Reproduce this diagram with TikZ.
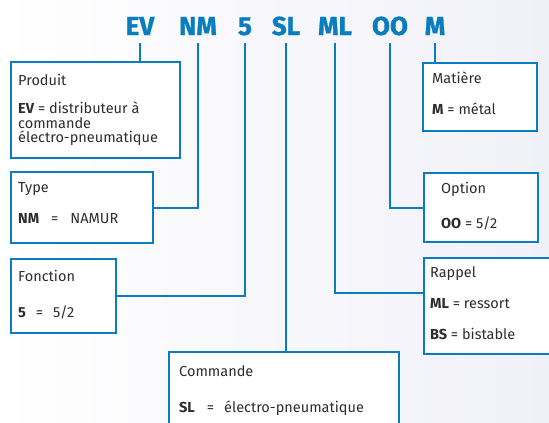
\documentclass[tikz,border=0pt]{standalone}
\usepackage{fontspec}
\setmainfont{Fira Sans}
\newfontfamily\codefont[BoldFeatures={FakeBold=1.2}]{Fira Sans}
\usepackage{tikz}

\definecolor{evblue}{RGB}{10,125,190}
\definecolor{txtgray}{RGB}{45,45,45}
\definecolor{bgtint}{RGB}{240,240,248}

\tikzset{
  code/.style={font=\fontsize{26}{26}\selectfont\codefont\bfseries, text=evblue, inner sep=0pt, outer ysep=8pt, anchor=base},
  infobox/.style={draw=evblue, line width=2.4pt, fill=white, anchor=north west, inner sep=0pt},
  boxtext/.style={font=\fontsize{14.5}{15}\selectfont, text=txtgray, anchor=base west, inner sep=0pt},
  link/.style={draw=evblue, line width=1.9pt}
}

\begin{document}
\begin{tikzpicture}[x=1pt,y=-1pt]
  \useasboundingbox (0,0) rectangle (549,423);
  \clip (0,0) rectangle (549,423);
  \shade [left color=white, right color=bgtint] (0,0) rectangle (549,423);
  % reference code
  \node [code] (ev) at (140,35) {EV};
  \node [code] (nm) at (198,35) {NM};
  \node [code] (cinq) at (245,35) {5};
  \node [code] (sl) at (286,35) {SL};
  \node [code] (ml) at (335,35) {ML};
  \node [code] (oo) at (390,35) {OO};
  \node [code] (m) at (435,35) {M};
  % boxes
  \node [infobox, minimum width=169pt, minimum height=96pt] (produit) at (10,61) {};
  \node [infobox, minimum width=142pt, minimum height=71pt] (type) at (10,171) {};
  \node [infobox, minimum width=105pt, minimum height=74pt] (fonction) at (10,258) {};
  \node [infobox, minimum width=114pt, minimum height=68pt] (matiere) at (422,62) {};
  \node [infobox, minimum width=114pt, minimum height=69pt] (option) at (423,172) {};
  \node [infobox, minimum width=150pt, minimum height=96pt] (rappel) at (423,257) {};
  \node [infobox, minimum width=230pt, minimum height=90pt] (commande) at (168,351) {};
  % connectors
  \draw [link] (ev.south) -- (ev.south |- produit.north);
  \draw [link] (nm.south) |- (type.east);
  \draw [link] (cinq.south) |- (fonction.east);
  \draw [link] (sl.south) -- (sl.south |- commande.north);
  \draw [link] (ml.south) |- ([yshift=13pt]rappel.west);
  \draw [link] (oo.south) |- (option.west);
  \draw [link] (m.south) -- (m.south |- matiere.north);
  % texts
  \node [boxtext] (produit-t) at (18,85) {Produit};
  \node [boxtext] (produit-a) at (18,113) {\textbf{EV} = distributeur à};
  \node [boxtext] (produit-b) at (18,128) {commande};
  \node [boxtext] (produit-c) at (18,142) {électro-pneumatique};
  \node [boxtext] (type-t) at (18,192) {Type};
  \node [boxtext] (type-a) at (18,223) {\textbf{NM}\hspace{12pt}=\hspace{12pt}NAMUR};
  \node [boxtext] (fonction-t) at (18,281) {Fonction};
  \node [boxtext] (fonction-a) at (18,317) {\textbf{5}\hspace{10pt}=\hspace{10pt}5/2};
  \node [boxtext] (matiere-t) at (432,83) {Matière};
  \node [boxtext] (matiere-a) at (432,114) {\textbf{M} = métal};
  \node [boxtext] (option-t) at (441,193) {Option};
  \node [boxtext] (option-a) at (441,228) {\textbf{OO} = 5/2};
  \node [boxtext] (rappel-t) at (430,277) {Rappel};
  \node [boxtext] (rappel-a) at (430,308) {\textbf{ML} = ressort};
  \node [boxtext] (rappel-b) at (430,339) {\textbf{BS} = bistable};
  \node [boxtext] (commande-t) at (179,376) {Commande};
  \node [boxtext] (commande-a) at (179,412) {\textbf{SL}\hspace{12pt}=\hspace{10pt}électro-pneumatique};
\end{tikzpicture}
\end{document}
